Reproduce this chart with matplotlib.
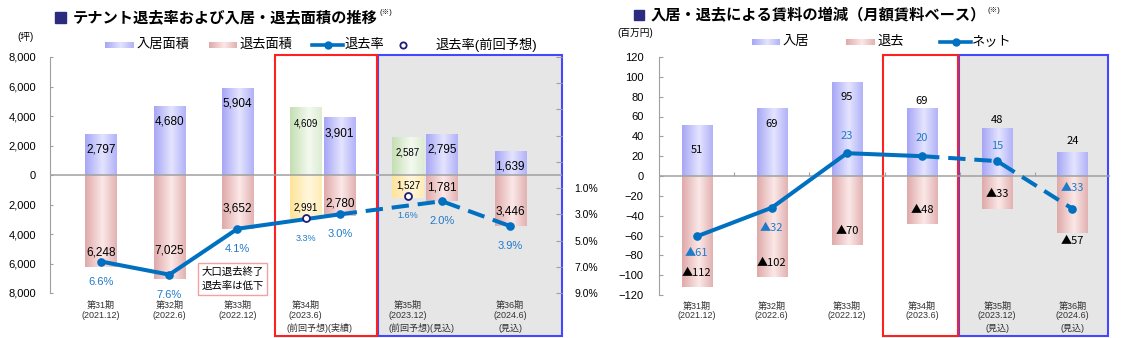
import numpy as np
import matplotlib
matplotlib.use('Agg')
import matplotlib.pyplot as plt
from matplotlib.patches import Rectangle
from matplotlib.lines import Line2D
from matplotlib.ticker import FuncFormatter
import matplotlib.transforms as mtransforms
import matplotlib.colors as mcolors

plt.rcParams['font.family'] = ['Liberation Sans', 'Noto Sans CJK JP']
plt.rcParams['axes.unicode_minus'] = True

# ---------------- data ----------------
# Left chart: tenant exit rate and move-in / move-out floor area (tsubo)
left_bar_keys = ['31', '32', '33', '34_prev', '34_act', '35_prev', '35_fcst', '36_fcst']
area_in = [2797, 4680, 5904, 4609, 3901, 2587, 2795, 1639]
area_out = [6248, 7025, 3652, 2991, 2780, 1527, 1781, 3446]
exit_rate = [6.6, 7.6, 4.1, 3.3, 3.0, 1.6, 2.0, 3.9]
is_prev_forecast = [False, False, False, True, False, True, False, False]

left_period = ['第31期', '第32期', '第33期', '第34期', '第35期', '第36期']
left_date = ['(2021.12)', '(2022.6)', '(2022.12)', '(2023.6)', '(2023.12)', '(2024.6)']
left_note = ['', '', '', '(前回予想)(実績)', '(前回予想)(見込)', '(見込)']

# Right chart: rent change by move-in / move-out (million yen)
right_period = ['第31期', '第32期', '第33期', '第34期', '第35期', '第36期']
right_date = ['(2021.12)', '(2022.6)', '(2022.12)', '(2023.6)', '(2023.12)', '(2024.6)']
right_note = ['', '', '', '', '(見込)', '(見込)']
rent_in = [51, 69, 95, 69, 48, 24]
rent_out = [-112, -102, -70, -48, -33, -57]
rent_net = [-61, -32, 23, 20, 15, -33]

# ---------------- layout / style ----------------
W, H = 1121, 338
PT = 0.72  # points per pixel at dpi 100
fig = plt.figure(figsize=(W / 100, H / 100), dpi=100)


def fx(px):
    return px / W


def fy(py):
    return 1 - py / H


BLUE_LINE = '#0070C0'
LABEL_BLUE = '#1F7AC8'
NAVY = '#1E1E78'
GRAY = '#A0A0A0'
CJK = ['Noto Sans CJK JP', 'DejaVu Sans']

ST_BLUE = [(0, '#A6A6F6'), (0.55, '#E4E4FF'), (1, '#B2B2F8')]
ST_PINK = [(0, '#DFA9A9'), (0.55, '#FCE8E8'), (1, '#E2B2B2')]
ST_GREEN = [(0, '#C4DFB2'), (0.6, '#F4F9F0'), (1, '#DCECD2')]
ST_YELLOW = [(0, '#FFE398'), (0.6, '#FFF7DD'), (1, '#FFEDB4')]


def grad_img(stops, n=64):
    xs = np.linspace(0, 1, n)
    pos = [p for p, _ in stops]
    rgb = [mcolors.to_rgb(c) for _, c in stops]
    arr = np.zeros((1, n, 3))
    for k in range(3):
        arr[0, :, k] = np.interp(xs, pos, [c[k] for c in rgb])
    return arr


def gbar(ax, x, h, w, stops, z=2):
    bars = ax.bar(x, h, w, color='none', edgecolor='none', zorder=z)
    for b in bars:
        x0, y0 = b.get_x(), b.get_y()
        ww, hh = b.get_width(), b.get_height()
        im = ax.imshow(grad_img(stops), extent=[x0, x0 + ww, y0, y0 + hh],
                       aspect='auto', zorder=z, interpolation='bilinear')
        im.set_clip_path(b)
    return bars


# ================= LEFT CHART =================
axL = fig.add_axes([fx(50), fy(293), fx(562) - fx(50), fy(57) - fy(293)])
slots = [0, 2, 4, 6, 7, 9, 10, 12]
bw = 0.92
period_slot = [0, 2, 4, 6, 9, 12]

trL = mtransforms.blended_transform_factory(axL.transData, fig.transFigure)
box_top, box_bot = fy(55), fy(336)
axL.add_patch(Rectangle((8.12, box_bot), 13.52 - 8.12, box_top - box_bot, transform=trL,
                        facecolor='#E6E6E6', edgecolor='#4646FF', lw=1.5, zorder=0, clip_on=False))
axL.add_patch(Rectangle((5.10, box_bot), 8.09 - 5.10, box_top - box_bot, transform=trL,
                        facecolor='none', edgecolor='#FF2020', lw=1.5, zorder=0.5, clip_on=False))

for i, s in enumerate(slots):
    st_in = ST_GREEN if is_prev_forecast[i] else ST_BLUE
    st_out = ST_YELLOW if is_prev_forecast[i] else ST_PINK
    gbar(axL, [s], [area_in[i]], bw, st_in)
    gbar(axL, [s], [-area_out[i]], bw, st_out)

axL.axhline(0, color=GRAY, lw=1.1, zorder=2.5)

in_dy = [-16] * 8
out_dy = [15, 28, 20, 12, 13, 12.5, 14, 14]
for i, s in enumerate(slots):
    fs = 7 if is_prev_forecast[i] else 8.5
    axL.annotate(f'{area_in[i]:,}', xy=(s, area_in[i]), xytext=(0, in_dy[i] * PT),
                 textcoords='offset points', ha='center', va='center', fontsize=fs, zorder=6)
    axL.annotate(f'{area_out[i]:,}', xy=(s, -area_out[i]), xytext=(0, out_dy[i] * PT),
                 textcoords='offset points', ha='center', va='center', fontsize=fs, zorder=6)

axL.text(3.86, -7050, '大口退去終了\n退去率は低下', ha='center', va='center', fontsize=7.5,
         linespacing=1.45, zorder=7, clip_on=False,
         bbox=dict(boxstyle='square,pad=0.35', fc='white', ec='#F2A0A0', lw=1))

axL.set_xlim(-1.5, 13.52)
axL.set_ylim(-8000, 8000)
axL.set_yticks(np.arange(-8000, 8001, 2000))
axL.yaxis.set_major_formatter(FuncFormatter(lambda v, p: f'{abs(v):,.0f}'))
axL.tick_params(axis='y', direction='in', length=2, color=GRAY, labelsize=8, pad=10)
axL.set_xticks([])
for sp in ['top', 'right', 'bottom']:
    axL.spines[sp].set_visible(False)
axL.spines['left'].set_color(GRAY)
axL.spines['left'].set_linewidth(0.8)
axL.set_facecolor('none')

# rate line on twin axis
ax2 = axL.twinx()
ax2.set_ylim(9, -9)
ax2.set_xlim(-1.5, 13.52)
act_idx = [i for i in range(8) if not is_prev_forecast[i]]
solid_idx = [i for i in act_idx if i <= 4]
dash_idx = [i for i in act_idx if i >= 4]
ax2.plot([slots[i] for i in solid_idx], [exit_rate[i] for i in solid_idx], color=BLUE_LINE,
         lw=2.9, solid_capstyle='butt', zorder=3)
ax2.plot([slots[i] for i in dash_idx], [exit_rate[i] for i in dash_idx], color=BLUE_LINE,
         lw=2.9, dashes=(4.3, 2.2), zorder=3)
ax2.plot([slots[i] for i in act_idx], [exit_rate[i] for i in act_idx], ls='none', marker='o',
         ms=5.2, color=BLUE_LINE, zorder=4)
prev_idx = [i for i in range(8) if is_prev_forecast[i]]
ax2.plot([slots[i] for i in prev_idx], [exit_rate[i] for i in prev_idx], ls='none', marker='o',
         ms=5, mfc='white', mec=NAVY, mew=1.3, zorder=5)
for i, s in enumerate(slots):
    fs = 6.5 if is_prev_forecast[i] else 8
    ax2.annotate(f'{exit_rate[i]:.1f}%', xy=(s, exit_rate[i]), xytext=(0, -20 * PT),
                 textcoords='offset points', ha='center', va='center', fontsize=fs,
                 color=LABEL_BLUE, zorder=6)
ax2.set_yticks(np.arange(-9, 10, 2))
ax2.yaxis.set_major_formatter(FuncFormatter(lambda v, p: f'{v:.1f}%' if v > 0 else ''))
ax2.tick_params(axis='y', direction='in', length=4, color=GRAY, labelsize=7.5, pad=9)
ax2.set_xticks([])
for sp in ax2.spines.values():
    sp.set_visible(False)

# x labels left
for k, s in enumerate(period_slot):
    ax_kw = dict(transform=trL, ha='center', va='center', fontsize=6.5, color='#333333')
    axL.text(s, fy(305), left_period[k], **ax_kw)
    axL.text(s, fy(316), left_date[k], **ax_kw)
    if left_note[k]:
        nx = s + 0.4 if k in (3, 4) else s
        axL.text(nx, fy(328), left_note[k], **ax_kw)

# ================= RIGHT CHART =================
axR = fig.add_axes([fx(659), fy(295), fx(1110) - fx(659), fy(57) - fy(295)])
cats = np.arange(len(rent_in))
trR = mtransforms.blended_transform_factory(axR.transData, fig.transFigure)
axR.add_patch(Rectangle((3.49, box_bot), 5.48 - 3.49, box_top - box_bot, transform=trR,
                        facecolor='#E6E6E6', edgecolor='#4646FF', lw=1.5, zorder=0, clip_on=False))
axR.add_patch(Rectangle((2.48, box_bot), 1.0, box_top - box_bot, transform=trR,
                        facecolor='none', edgecolor='#FF2020', lw=1.5, zorder=0.5, clip_on=False))
rbw = 0.4
gbar(axR, cats, rent_in, rbw, ST_BLUE)
gbar(axR, cats, rent_out, rbw, ST_PINK)
axR.axhline(0, color=GRAY, lw=1.1, zorder=2.5)
axR.plot(cats[:-1] + 0.5, [0] * (len(cats) - 1), ls='none', marker=2, ms=3, mew=0.8,
         color=GRAY, zorder=2.5)

axR.plot(cats[:4], rent_net[:4], color=BLUE_LINE, lw=2.9, zorder=3)
axR.plot(cats[3:], rent_net[3:], color=BLUE_LINE, lw=2.9, dashes=(4.3, 2.2), zorder=3)
axR.plot(cats, rent_net, ls='none', marker='o', ms=5.2, color=BLUE_LINE, zorder=4)


def tri(v):
    return f'▲{abs(v)}' if v < 0 else f'{v}'


rin_dy = [-25, -16, -15.5, 7, 8, 11]
rout_dy = [14, 14, 14, 14, 14.5, -8]
rnet_dy = [-17, -20.5, 17, 18, 15, 20.5]
for i in cats:
    axR.annotate(tri(rent_in[i]), xy=(i, rent_in[i]), xytext=(0, rin_dy[i] * PT),
                 textcoords='offset points', ha='center', va='center', fontsize=8,
                 family=CJK, zorder=6)
    axR.annotate(tri(rent_out[i]), xy=(i, rent_out[i]), xytext=(0, rout_dy[i] * PT),
                 textcoords='offset points', ha='center', va='center', fontsize=8,
                 family=CJK, zorder=6)
    axR.annotate(tri(rent_net[i]), xy=(i, rent_net[i]), xytext=(0, rnet_dy[i] * PT),
                 textcoords='offset points', ha='center', va='center', fontsize=8,
                 family=CJK, color=LABEL_BLUE, zorder=6)

axR.set_xlim(-0.5, 5.5)
axR.set_ylim(-120, 120)
axR.set_yticks(np.arange(-120, 121, 20))
axR.tick_params(axis='y', direction='in', length=3, color=GRAY, labelsize=8, pad=11)
axR.set_xticks([])
for sp in ['top', 'right', 'bottom']:
    axR.spines[sp].set_visible(False)
axR.spines['left'].set_color(GRAY)
axR.spines['left'].set_linewidth(0.8)
axR.set_facecolor('none')

for k in cats:
    kw = dict(transform=trR, ha='center', va='center', fontsize=6.5, color='#333333')
    axR.text(k, fy(306), right_period[k], **kw)
    axR.text(k, fy(316), right_date[k], **kw)
    if right_note[k]:
        axR.text(k, fy(328), right_note[k], **kw)


# ================= titles, units, legends =================
def title(xsq, ysq, sq, xt, yt, txt):
    fig.add_artist(Rectangle((fx(xsq), fy(ysq + sq)), sq / W, sq / H, transform=fig.transFigure,
                             color='#2B2B80'))
    t = fig.text(fx(xt), fy(yt), txt, fontsize=11, fontweight='bold', va='center', ha='left',
                 family=CJK)
    plt.annotate('(※)', xy=(1, 0.8), xycoords=t, xytext=(1, 0), textcoords='offset points',
                 fontsize=5.5, va='center', ha='left', annotation_clip=False)


title(55, 12, 11, 73, 17, 'テナント退去率および入居・退去面積の推移')
title(634, 10, 10, 651, 15, '入居・退去による賃料の増減（月額賃料ベース）')

fig.text(fx(26), fy(37), '(坪)', fontsize=7, ha='center', va='center')
fig.text(fx(635), fy(33), '(百万円)', fontsize=7, ha='center', va='center')


def legend_patch(x0, x1, yc, stops, h=6):
    lax = fig.add_axes([fx(x0), fy(yc + h / 2), fx(x1) - fx(x0), h / H])
    lax.imshow(grad_img(stops), aspect='auto', extent=[0, 1, 0, 1], interpolation='bilinear')
    lax.axis('off')


def legend_line(x0, x1, yc):
    fig.add_artist(Line2D([fx(x0), fx(x1)], [fy(yc)] * 2, color=BLUE_LINE, lw=2.6,
                          transform=fig.transFigure))
    fig.add_artist(Line2D([fx((x0 + x1) / 2)], [fy(yc)], marker='o', ms=5, color=BLUE_LINE,
                          transform=fig.transFigure))


LFS = 9.5
legend_patch(105, 134, 45, ST_BLUE)
fig.text(fx(137), fy(45), '入居面積', fontsize=LFS, va='center', ha='left')
legend_patch(209, 237, 45, ST_PINK)
fig.text(fx(240), fy(45), '退去面積', fontsize=LFS, va='center', ha='left')
legend_line(312, 343, 45)
fig.text(fx(345), fy(45), '退去率', fontsize=LFS, va='center', ha='left')
fig.add_artist(Line2D([fx(403)], [fy(45)], marker='o', ms=4.5, mfc='white', mec=NAVY, mew=1.3,
                      transform=fig.transFigure))
fig.text(fx(436), fy(45), '退去率(前回予想)', fontsize=LFS, va='center', ha='left')

legend_patch(752, 780, 42, ST_BLUE)
fig.text(fx(783), fy(42), '入居', fontsize=LFS, va='center', ha='left')
legend_patch(846, 875, 42, ST_PINK)
fig.text(fx(878), fy(42), '退去', fontsize=LFS, va='center', ha='left')
legend_line(940, 971, 42)
fig.text(fx(972), fy(42), 'ネット', fontsize=LFS, va='center', ha='left')

fig.savefig('out.png', dpi=100)
